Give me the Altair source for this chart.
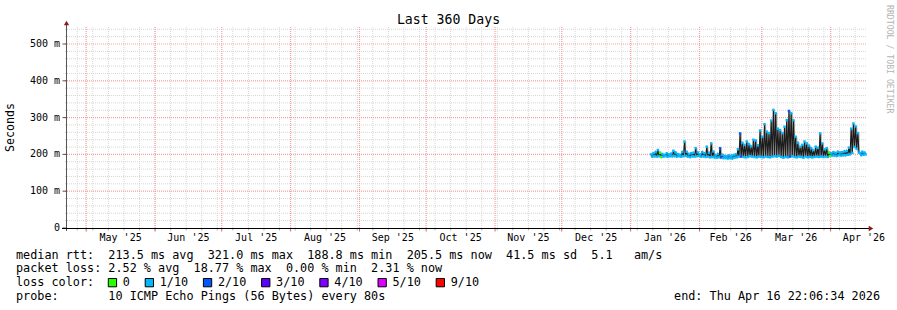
import altair as alt
import pandas as pd

# ---------------- data ----------------
START = "2025-04-21T22:06:34"
END = "2026-04-16T22:06:34"
FIRST_DAY = "2026-01-10"

# daily peak / trough of the median rtt (ms), Jan 10 .. Apr 16 2026
median_high = [
    200, 203, 206, 212, 204, 201, 199, 203, 200, 202,
    210, 205, 201, 199, 206, 235, 207, 201, 203, 204,
    217, 205, 200, 206, 203, 221, 204, 230, 208, 198,
    201, 217, 199, 196, 195, 197, 196, 198, 200, 214,
    257, 232, 226, 235, 228, 222, 240, 238, 225, 265,
    248, 282, 262, 258, 292, 321, 312, 270, 266, 258,
    275, 293, 318, 312, 293, 248, 232, 221, 226, 235,
    230, 224, 217, 212, 221, 218, 257, 230, 214, 217,
    205, 203, 206, 204, 207, 205, 206, 208, 209, 218,
    270, 284, 276, 258, 204, 207, 205,
]
median_low = [
    194, 195, 194, 195, 193, 194, 195, 194, 195, 195,
    196, 194, 195, 194, 195, 196, 194, 193, 195, 194,
    195, 196, 194, 195, 193, 194, 192, 193, 192, 191,
    192, 192, 190, 190, 189, 190, 189, 191, 192, 194,
    194, 193, 192, 193, 195, 194, 193, 192, 194, 193,
    192, 194, 193, 192, 194, 195, 194, 196, 193, 191,
    193, 192, 194, 195, 193, 192, 194, 193, 191, 194,
    192, 193, 192, 193, 194, 193, 194, 193, 194, 193,
    196, 197, 197, 196, 198, 197, 198, 198, 199, 200,
    204, 220, 215, 205, 198, 199, 200,
]
# loss class per day (index into loss_labels)
loss_class = [
    1, 1, 1, 1, 0, 1, 1, 1, 1, 1,
    1, 1, 1, 1, 1, 1, 1, 1, 1, 1,
    1, 1, 1, 1, 1, 1, 1, 1, 1, 1,
    1, 2, 1, 1, 1, 1, 1, 1, 1, 1,
    2, 1, 1, 1, 1, 1, 1, 1, 1, 1,
    1, 1, 1, 1, 1, 1, 1, 1, 1, 1,
    1, 1, 2, 1, 1, 1, 1, 1, 1, 1,
    1, 1, 1, 1, 1, 1, 1, 1, 1, 1,
    0, 1, 1, 1, 1, 1, 1, 1, 1, 1,
    1, 1, 1, 1, 1, 1, 1,
]

loss_labels = ["0", "1/10", "2/10", "3/10", "4/10", "5/10", "9/10"]
loss_colors = ["#26ff00", "#00b8ff", "#0059ff", "#5e00ff", "#7e00ff", "#dd00ff", "#ff0000"]

month_starts = ["2025-05-01", "2025-06-01", "2025-07-01", "2025-08-01", "2025-09-01",
                "2025-10-01", "2025-11-01", "2025-12-01", "2026-01-01", "2026-02-01",
                "2026-03-01", "2026-04-01", "2026-05-01"]
month_labels = ["May '25", "Jun '25", "Jul '25", "Aug '25", "Sep '25", "Oct '25",
                "Nov '25", "Dec '25", "Jan '26", "Feb '26", "Mar '26", "Apr '26"]
FIRST_SUNDAY = "2025-04-27"

y_tick_values = [0, 100, 200, 300, 400, 500]
y_tick_labels = ["0", "100 m", "200 m", "300 m", "400 m", "500 m"]
y_minor_values = [20, 40, 60, 80, 120, 140, 160, 180, 220, 240, 260, 280, 320, 340,
                  360, 380, 420, 440, 460, 480, 520, 540]

title_text = "Last 360 Days"
y_title = "Seconds"
row_rtt = "median rtt:  213.5 ms avg  321.0 ms max  188.8 ms min  205.5 ms now  41.5 ms sd  5.1   am/s"
row_loss = "packet loss: 2.52 % avg  18.77 % max  0.00 % min  2.31 % now"
row_color = "loss color:"
row_probe = "probe:       10 ICMP Echo Pings (56 Bytes) every 80s"
end_text = "end: Thu Apr 16 22:06:34 2026"
side_text = "RRDTOOL / TOBI OETIKER"

# ---------------- helpers ----------------
MONO = "DejaVu Sans Mono"
W, H = 800, 200
Y_MAX = 543.5


def ms(ts):
    t = pd.Timestamp(ts)
    if t.tzinfo is None:
        t = t.tz_localize("UTC")
    return int(t.value // 10**6)


xscale = alt.Scale(type="utc", domain=[ms(START), ms(END)])
yscale = alt.Scale(domain=[0, Y_MAX], nice=False, zero=True)


def X(field):
    return alt.X(f"{field}:T", scale=xscale, axis=None)


def Y(field):
    return alt.Y(f"{field}:Q", scale=yscale, axis=None)


one = pd.DataFrame({"k": [0]})


def txt(s, x, y, size=11.8, align="left", color="#000000", angle=0, baseline="alphabetic"):
    return alt.Chart(one).mark_text(
        text=s.replace(" ", "\u00a0"), font=MONO, fontSize=size, align=align,
        baseline=baseline, color=color, angle=angle,
    ).encode(x=alt.value(x), y=alt.value(y))


# ---------------- tables ----------------
days = pd.date_range(FIRST_DAY, periods=len(median_high), freq="D", tz="UTC")
zig = []
for i, d in enumerate(days):
    lab = loss_labels[loss_class[i]]
    zig.append({"t": ms(d + pd.Timedelta(hours=6)), "v": median_high[i], "loss": lab, "o": 2 * i})
    zig.append({"t": ms(d + pd.Timedelta(hours=18)), "v": median_low[i], "loss": lab, "o": 2 * i + 1})
df_zig = pd.DataFrame(zig)
df_day = pd.DataFrame({"t": [ms(d + pd.Timedelta(hours=12)) for d in days],
                       "lo": median_low, "hi": median_high})

df_months = pd.DataFrame({"t": [ms(m) for m in month_starts[:-1]]})
mids = []
for a, b in zip(month_starts[:-1], month_starts[1:]):
    mids.append((ms(a) + ms(b)) // 2)
df_mlab = pd.DataFrame({"t": mids, "label": month_labels})
weeks = pd.date_range(FIRST_SUNDAY, END, freq="7D", tz="UTC")
df_weeks = pd.DataFrame({"t": [ms(w) for w in weeks]})

df_ymaj = pd.DataFrame({"v": y_tick_values[1:]})
df_ymin = pd.DataFrame({"v": y_minor_values})
df_ylab = pd.DataFrame({"v": y_tick_values, "label": y_tick_labels})

# ---------------- layers ----------------
GRID = "#d6d6d6"
MGRID = "#f4a0a0"

hgrid_minor = alt.Chart(df_ymin).mark_rule(stroke=GRID, strokeDash=[1, 1], strokeWidth=1).encode(
    y=Y("v"), x=alt.value(-1), x2=alt.value(W))
vgrid_minor = alt.Chart(df_weeks).mark_rule(stroke=GRID, strokeDash=[1, 1], strokeWidth=1).encode(
    x=X("t"), y=alt.value(-1), y2=alt.value(H))
hgrid_major = alt.Chart(df_ymaj).mark_rule(stroke=MGRID, strokeDash=[1, 1], strokeWidth=1.2,
                                           opacity=1).encode(
    y=Y("v"), x=alt.value(-1), x2=alt.value(W))
vgrid_major = alt.Chart(df_months).mark_rule(stroke=MGRID, strokeDash=[1, 1], strokeWidth=1.2,
                                             opacity=1).encode(
    x=X("t"), y=alt.value(-1), y2=alt.value(H))

week_ticks = alt.Chart(df_weeks).mark_rule(stroke="#b0b0b0", strokeWidth=1).encode(
    x=X("t"), y=alt.value(H), y2=alt.value(H + 2.5))
month_ticks = alt.Chart(df_months).mark_rule(stroke="#e06060", strokeWidth=1).encode(
    x=X("t"), y=alt.value(H), y2=alt.value(H + 3.5))
ytick_marks = alt.Chart(df_ylab).mark_rule(stroke="#555555", strokeWidth=1).encode(
    y=Y("v"), x=alt.value(-3.5), x2=alt.value(0))

smoke = alt.Chart(df_day).mark_rule(stroke="#a9a9a9", strokeWidth=2.3).encode(
    x=X("t"), y=Y("lo"), y2=alt.Y2("hi"))
median_line = alt.Chart(df_zig).mark_line(stroke="#1c1c1c", strokeWidth=1.1).encode(
    x=X("t"), y=Y("v"), order="o:Q")
median_pts = alt.Chart(df_zig).mark_square(size=6, opacity=1, filled=True).encode(
    x=X("t"), y=Y("v"),
    color=alt.Color("loss:N", scale=alt.Scale(domain=loss_labels, range=loss_colors), legend=None))

y_axis = alt.Chart(one).mark_rule(stroke="#555555", strokeWidth=1).encode(
    x=alt.value(0.5), y=alt.value(H + 3), y2=alt.value(-4))
x_axis = alt.Chart(one).mark_rule(stroke="#000000", strokeWidth=1).encode(
    x=alt.value(-4), x2=alt.value(W + 3), y=alt.value(H + 0.5))
arrow_up = alt.Chart(one).mark_point(shape="triangle-up", filled=True, size=28, opacity=1,
                                     color="#8b1a1a").encode(x=alt.value(0.5), y=alt.value(-5))
arrow_right = alt.Chart(one).mark_point(shape="triangle-right", filled=True, size=28, opacity=1,
                                        color="#8b1a1a").encode(x=alt.value(W + 5), y=alt.value(H + 0.5))

ylabels = alt.Chart(df_ylab).mark_text(font=MONO, fontSize=10, align="right", baseline="middle",
                                       color="#000000").encode(
    y=Y("v"), x=alt.value(-6), text="label:N")
xlabels = alt.Chart(df_mlab).mark_text(font=MONO, fontSize=10, align="center", baseline="alphabetic",
                                       color="#000000").encode(
    x=X("t"), y=alt.value(213), text="label:N")

texts = [
    txt(title_text, 382.5, -4, size=13.2, align="center"),
    txt(y_title, -55, 99.5, size=11.6, align="center", angle=270, baseline="middle"),
    txt(side_text, 822.5, -23, size=8.2, align="left", angle=90, baseline="middle", color="#b4b4b4"),
    txt(row_rtt, -50, 230.5),
    txt(row_loss, -50, 244.4),
    txt(row_color, -50, 258.3),
    txt(row_probe, -50, 272),
    txt(end_text, 814, 272, align="right"),
]

# loss colour legend boxes
legend_layers = []
bx = 107.3 - 66
for lab, col in zip(loss_labels, loss_colors):
    legend_layers.append(
        alt.Chart(one).mark_rect(fill=col, stroke="#000000", strokeWidth=1).encode(
            x=alt.value(bx + 1), x2=alt.value(bx + 9.3), y=alt.value(250.5), y2=alt.value(258.8)))
    legend_layers.append(txt(lab, bx + 15.5, 258.3))
    bx += 29.8 + 7.1 * len(lab)

chart = alt.layer(
    hgrid_minor, vgrid_minor, hgrid_major, vgrid_major,
    smoke, median_line, median_pts,
    week_ticks, month_ticks, ytick_marks,
    y_axis, x_axis, arrow_up, arrow_right,
    ylabels, xlabels, *texts, *legend_layers,
).properties(
    width=W, height=H,
    padding={"left": 66, "top": 28, "right": 31, "bottom": 82},
    autosize=alt.AutoSizeParams(type="none"),
    background="#ffffff",
).configure_view(stroke=None)

chart.save("out.html", embed_options={"renderer": "svg", "actions": False})
